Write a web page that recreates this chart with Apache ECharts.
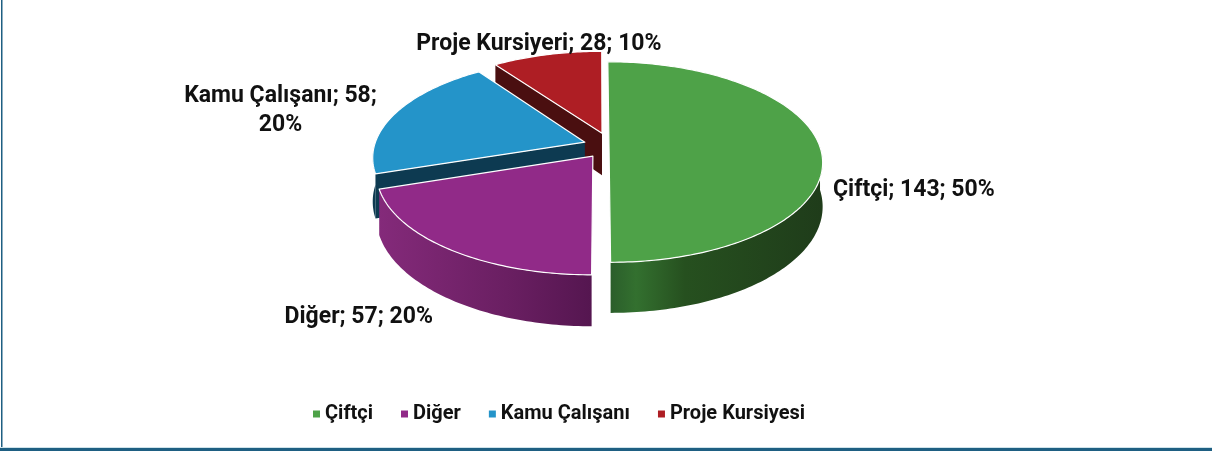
<!DOCTYPE html>
<html>
<head>
<meta charset="utf-8">
<script src="https://cdn.jsdelivr.net/npm/echarts@6/dist/echarts.min.js"></script>
<style>
  html, body { margin: 0; padding: 0; background: #fff; }
  #chart { width: 1212px; height: 451px; }
</style>
</head>
<body>
<div id="chart"></div>
<script>
// data
const categories = ["Çiftçi", "Diğer", "Kamu Çalışanı", "Proje Kursiyesi"];
const labelNames = ["Çiftçi", "Diğer", "Kamu Çalışanı", "Proje Kursiyeri"];
const values = [143, 57, 58, 28];

// look of the 3d pie
const topColors = ["#4ea248", "#912a88", "#2494c9", "#ae1e24"];
const cutColors = ["#23461f", "#5d1a56", "#0d3a51", "#4a0f10"];
const sideStops = [
  [[0, "#2b5e2b"], [0.12, "#33702f"], [0.35, "#26501f"], [1, "#1f3c1a"]],
  [[0, "#842a7a"], [0.6, "#6a1f62"], [1, "#551650"]],
  [[0, "#0e3a51"], [1, "#0e3a51"]],
  [[0, "#4a0f10"], [1, "#4a0f10"]],
];
// how far each slice is pulled out (in radius units, ground plane)
const explode = [[0.043, 0], [-0.033, 0.091], [-0.072, -0.05], [0.01, -0.144]];
// label offset from the slice edge, alignment, wrap before percent
const labelOffset = [[13, 22, "left", false], [-16, 43, "right", false], [-115, -23, "center", true], [-8, -29, "center", false]];
const drawOrder = [3, 4, 2, 1]; // z: back slices first

const PERSP = 0.15, RX = 211, RY = 98, DEPTH = 43;
const FONT = "Roboto, 'Liberation Sans', sans-serif";

const total = values.reduce((a, b) => a + b, 0);
const starts = [];
let acc = 0;
values.forEach((v) => { starts.push(acc / total * 360); acc += v; });

const rad = (d) => d * Math.PI / 180;

function makeRender(i) {
  return function (params, api) {
    const X0 = api.getWidth() * 0.495;
    const Y0 = 147;
    const ex = explode[i][0], ey = explode[i][1];
    // u to the right, v toward the viewer, h = 0 top / 1 bottom
    const proj = (U, V, h) => {
      const s = 1 / (1 - PERSP * V);
      return [X0 + RX * U * s, Y0 + (RY * V + h * DEPTH) * s];
    };
    const edge = (t, h) => proj(ex + Math.sin(rad(t)), ey - Math.cos(rad(t)), h);
    const arc = (a, b, h) => {
      const pts = [];
      const n = Math.max(2, Math.ceil(b - a));
      for (let k = 0; k <= n; k++) pts.push(edge(a + (b - a) * k / n, h));
      return pts;
    };
    const a = starts[i];
    const b = a + values[i] / total * 360;
    const tipTop = proj(ex, ey, 0), tipBot = proj(ex, ey, 1);
    const children = [];

    // cut faces that look toward the viewer
    if (Math.sin(rad(a)) < -0.01) {
      children.push({ type: "polygon", shape: { points: [tipTop, edge(a, 0), edge(a, 1), tipBot] },
        style: { fill: cutColors[i] } });
    }
    if (Math.sin(rad(b)) > 0.01) {
      children.push({ type: "polygon", shape: { points: [tipTop, edge(b, 0), edge(b, 1), tipBot] },
        style: { fill: cutColors[i] } });
    }
    // outer wall, front half only
    const wa = Math.max(a, 90), wb = Math.min(b, 270);
    if (wb > wa) {
      const pts = arc(wa, wb, 0).concat(arc(wa, wb, 1).reverse());
      children.push({ type: "polygon", shape: { points: pts },
        style: { fill: new echarts.graphic.LinearGradient(0, 0, 1, 0,
          sideStops[i].map((s) => ({ offset: s[0], color: s[1] }))) } });
    }
    // top face
    children.push({ type: "polygon", shape: { points: [tipTop].concat(arc(a, b, 0)) },
      style: { fill: topColors[i], stroke: "#ffffff", lineWidth: 1.2, lineJoin: "round" } });

    // data label
    const mid = (a + b) / 2;
    const p = edge(mid, 0.5);
    const pct = Math.round(values[i] / total * 100);
    const sep = labelOffset[i][3] ? ";\n" : "; ";
    children.push({ type: "text", x: p[0] + labelOffset[i][0], y: p[1] + labelOffset[i][1],
      style: { text: labelNames[i] + "; " + values[i] + sep + pct + "%", fill: "#111",
        font: "bold 23px " + FONT, align: labelOffset[i][2], verticalAlign: "middle",
        lineHeight: 29 } });
    return { type: "group", children: children };
  };
}

const chart = echarts.init(document.getElementById("chart"));
chart.setOption({
  animation: false,
  legend: {
    data: categories,
    top: 397,
    left: 308,
    icon: "rect",
    itemWidth: 7,
    itemHeight: 7,
    itemGap: 28,
    selectedMode: false,
    textStyle: { fontFamily: FONT, fontWeight: "bold", fontSize: 20, color: "#111", lineHeight: 24 },
  },
  graphic: [
    { type: "rect", shape: { x: 1, y: 0, width: 1.5, height: 451 }, style: { fill: "#1e5f82" } },
    { type: "rect", shape: { x: 0, y: 447, width: 1212, height: 1 }, style: { fill: "#cfe3ea" } },
    { type: "rect", shape: { x: 0, y: 448, width: 1212, height: 3 }, style: { fill: "#1e5f82" } },
  ],
  series: categories.map((name, i) => ({
    type: "custom",
    name: name,
    coordinateSystem: "none",
    z: drawOrder[i],
    silent: true,
    itemStyle: { color: topColors[i] },
    data: [values[i]],
    renderItem: makeRender(i),
  })),
});
</script>
</body>
</html>
